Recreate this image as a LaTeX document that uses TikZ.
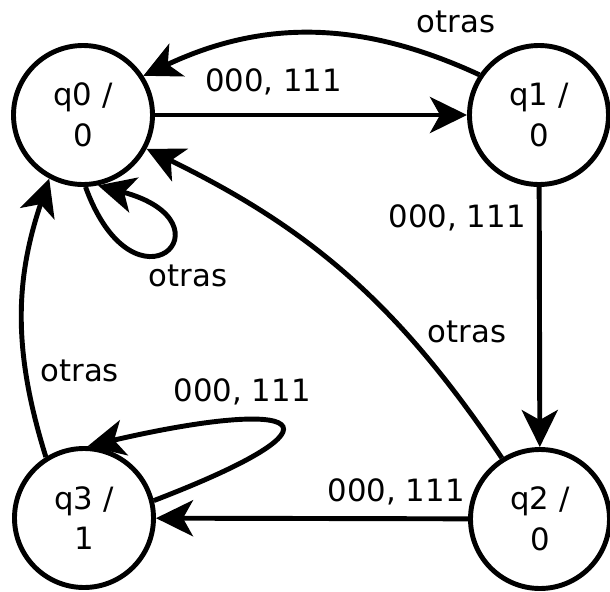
\documentclass[tikz,border=0pt]{standalone}
\usepackage{fontspec}
\setmainfont{DejaVu Sans}
\usetikzlibrary{arrows.meta}

\begin{document}
\begin{tikzpicture}[
  state/.style={circle,draw=black,line width=2.8pt,minimum size=2.78cm,inner sep=0pt,align=center,font=\fontsize{17.5}{23}\selectfont},
  trans/.style={draw=black,line width=2.8pt,-{Stealth[length=0.74cm,width=0.72cm,inset=0.2cm]}},
  lbl/.style={font=\fontsize{17.5}{23}\selectfont,text=black,inner sep=0pt}]
\useasboundingbox (0,0) rectangle (12.2,11.82);

\node[state] (q0) at (1.66,9.52) {q0 /\\0};
\node[state] (q1) at (10.78,9.52) {q1 /\\0};
\node[state] (q2) at (10.80,1.44) {q2 /\\0};
\node[state] (q3) at (1.68,1.46) {q3 /\\1};

\draw[trans] (q0) -- node[lbl,pos=0.38,yshift=0.66cm] {000, 111} (q1);
\draw[trans] (q1) -- node[lbl,pos=0.12,xshift=-1.64cm] {000, 111} (q2);
\draw[trans] (q2) -- node[lbl,pos=0.23,yshift=0.54cm] {000, 111} (q3);

\draw[trans] (q1.146) to[bend right=25] node[lbl,pos=0.1,xshift=0.24cm,yshift=0.76cm] {otras} (q0.33);
\draw[trans] (q2.122) to[bend right=15] node[lbl,pos=0.3,xshift=1.12cm,yshift=0.14cm] {otras} (q0.-28);
\draw[trans] (q3.122) to[bend left=18] node[lbl,pos=0.3,xshift=1.08cm] {otras} (q0.-118);

\draw[trans] (q0.-88) .. controls +(-70:2.9cm) and +(-15:2.9cm) .. (q0.-78) node[lbl,pos=0.5,xshift=0.5cm,yshift=-0.5cm] {otras};
\draw[trans] (q3.14) .. controls +(21:4.4cm) and +(13:4.4cm) .. (q3.87) node[lbl,pos=0.5,xshift=-0.72cm,yshift=0.66cm] {000, 111};

\end{tikzpicture}
\end{document}
